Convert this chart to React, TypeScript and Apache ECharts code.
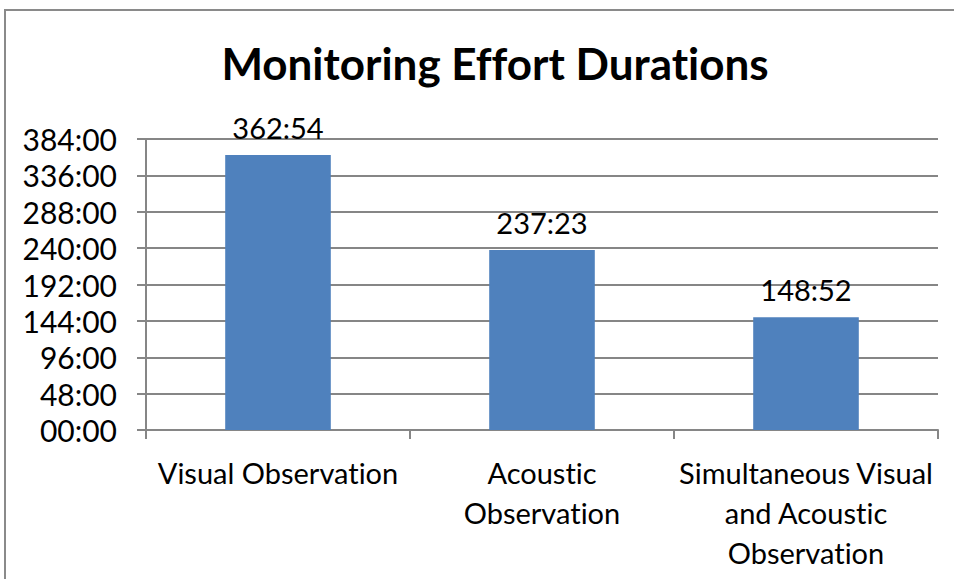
import React, { useEffect, useRef } from "react";
import * as echarts from "echarts";

const categories = [
  "Visual Observation",
  "Acoustic\nObservation",
  "Simultaneous Visual\nand Acoustic\nObservation",
];
const durations = ["362:54", "237:23", "148:52"];
const yTicks = { min: 0, max: 384, interval: 48 };
const title = "Monitoring Effort Durations";

const toHours = (s: string) => {
  const [h, m] = s.split(":").map(Number);
  return h + m / 60;
};
const pad = (n: number) => (n < 10 ? "0" + n : String(n));

export default function App() {
  const ref = useRef<HTMLDivElement>(null);
  useEffect(() => {
    const chart = echarts.init(ref.current!, undefined, { renderer: "svg" });
    const font = "Lato";
    chart.setOption({
      animation: false,
      backgroundColor: "#ffffff",
      title: {
        text: title,
        left: 490,
        textAlign: "center",
        top: 36,
        textStyle: { fontFamily: font, fontWeight: "bold", fontSize: 44, color: "#000" },
      },
      graphic: [
        {
          type: "rect",
          shape: { x: 5, y: 10, width: 960, height: 620 },
          style: { fill: "none", stroke: "#8a8a8a", lineWidth: 2 },
          silent: true,
        },
      ],
      grid: { left: 146, right: 16, top: 139, bottom: 149 },
      xAxis: {
        type: "category",
        data: categories,
        boundaryGap: true,
        axisLine: { show: true, lineStyle: { color: "#868686", width: 2 } },
        axisTick: { show: true, length: 9, lineStyle: { color: "#868686", width: 2 } },
        axisLabel: {
          interval: 0,
          margin: 22,
          fontFamily: font,
          fontSize: 29,
          lineHeight: 40,
          color: "#000",
        },
      },
      yAxis: {
        type: "value",
        min: yTicks.min,
        max: yTicks.max,
        interval: yTicks.interval,
        axisLine: { show: true, lineStyle: { color: "#868686", width: 2 } },
        axisTick: { show: true, length: 9, lineStyle: { color: "#868686", width: 2 } },
        splitLine: { show: true, lineStyle: { color: "#868686", width: 2 } },
        axisLabel: {
          margin: 29,
          fontFamily: font,
          fontSize: 30,
          color: "#000",
          formatter: (v: number) => pad(v) + ":00",
        },
      },
      series: [
        {
          type: "bar",
          data: durations.map(toHours),
          barWidth: "40%",
          itemStyle: { color: "#4F81BD" },
          label: {
            show: true,
            position: "top",
            distance: 13,
            fontFamily: font,
            fontSize: 29,
            color: "#000",
            formatter: (p: any) => durations[p.dataIndex],
          },
        },
      ],
    });
    return () => chart.dispose();
  }, []);
  return (
    <div
      ref={ref}
      style={{
        position: "fixed",
        left: 0,
        top: 0,
        width: 954,
        height: 579,
        fontVariantLigatures: "none",
      }}
    />
  );
}
